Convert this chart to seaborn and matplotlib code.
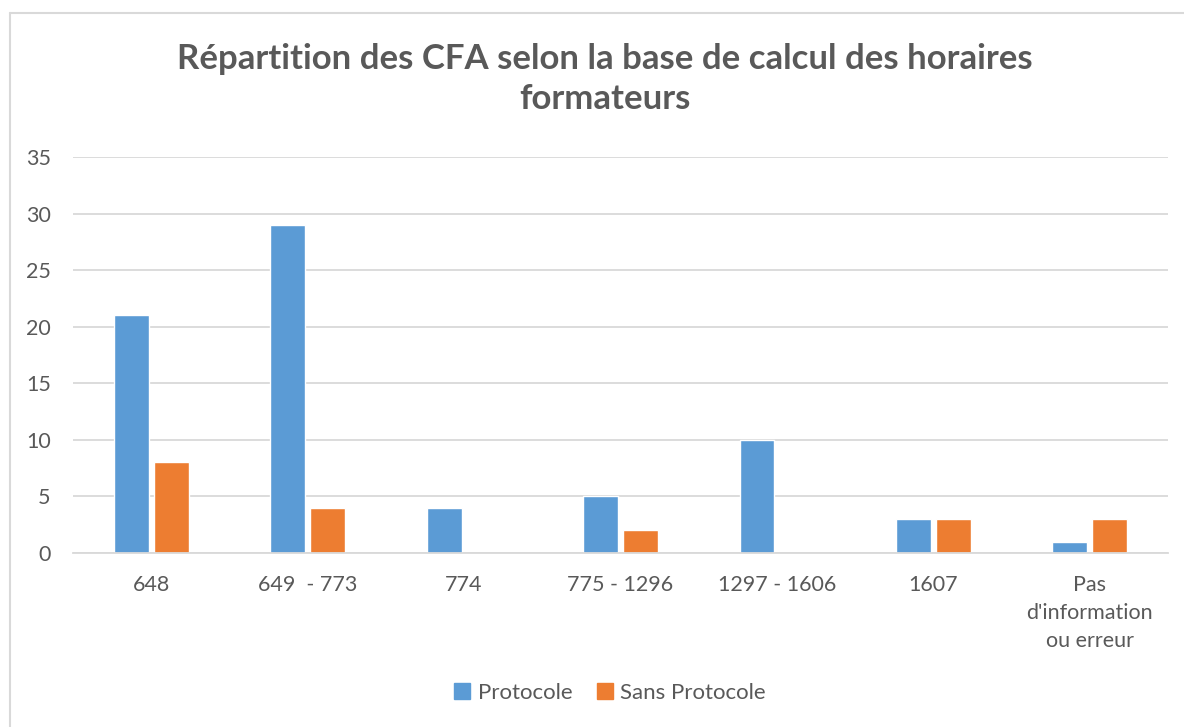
import matplotlib
matplotlib.use('Agg')
from matplotlib import pyplot as plt
from matplotlib.lines import Line2D
import pandas as pd
import seaborn as sns

categories = ['648', '649  - 773', '774', '775 - 1296', '1297 - 1606', '1607',
              "Pas\nd'information\nou erreur"]
protocole = [21, 29, 4, 5, 10, 3, 1]
sans_protocole = [8, 4, 0, 2, 0, 3, 3]
series = ['Protocole', 'Sans Protocole']
colors = ['#5B9BD5', '#ED7D31']
title = 'Répartition des CFA selon la base de calcul des horaires\nformateurs'


def main():
    sns.set_theme(style='white')
    plt.rcParams['font.family'] = ['Lato', 'DejaVu Sans']
    text_color = '#595959'
    grid_color = '#D9D9D9'

    df = pd.DataFrame({
        'cat': categories * 2,
        'value': protocole + sans_protocole,
        'serie': [series[0]] * len(categories) + [series[1]] * len(categories),
    })

    fig = plt.figure(figsize=(11.84, 7.27), dpi=100)
    ax = fig.add_axes([73 / 1184, 1 - 553 / 727, (1168 - 73) / 1184, (553 - 157) / 727])

    sns.barplot(data=df, x='cat', y='value', hue='serie', palette=colors,
                width=0.51, gap=0.125, ax=ax, legend=False, saturation=1)

    ax.set_ylim(0, 35)
    ax.set_yticks(range(0, 36, 5))
    ax.yaxis.grid(True, color=grid_color, linewidth=1.3)
    ax.set_axisbelow(True)
    for s in ['top', 'right', 'left']:
        ax.spines[s].set_visible(False)
    ax.spines['bottom'].set_color(grid_color)
    ax.spines['bottom'].set_linewidth(1.3)
    ax.tick_params(axis='both', length=0, labelsize=15.5, colors=text_color)
    ax.tick_params(axis='y', pad=16)
    ax.tick_params(axis='x', pad=16)
    ax.set_xlabel('')
    ax.set_ylabel('')
    ax.set_xlim(-0.5, len(categories) - 0.5)
    for lbl in ax.get_xticklabels():
        lbl.set_linespacing(1.5)

    fig.text(605 / 1184, 1 - 79 / 727, title, ha='center', va='center',
             fontsize=25, fontweight='bold', color=text_color, linespacing=1.3)

    handles = [Line2D([], [], marker='s', linestyle='', markersize=11,
                      markerfacecolor=c, markeredgecolor=c) for c in colors]
    fig.legend(handles, series, loc='center', bbox_to_anchor=(603 / 1184, 1 - 693 / 727),
               ncol=2, frameon=False, fontsize=16, handletextpad=-0.3,
               columnspacing=0.45, labelcolor=text_color)

    # chart area border (only left and top edges visible in the crop)
    fig.add_artist(Line2D([10 / 1184, 10 / 1184], [0, 1 - 13 / 727],
                          transform=fig.transFigure, color=grid_color, linewidth=1.5))
    fig.add_artist(Line2D([10 / 1184, 1], [1 - 13 / 727, 1 - 13 / 727],
                          transform=fig.transFigure, color=grid_color, linewidth=1.5))

    fig.savefig('out.png', dpi=100)


if __name__ == '__main__':
    main()
